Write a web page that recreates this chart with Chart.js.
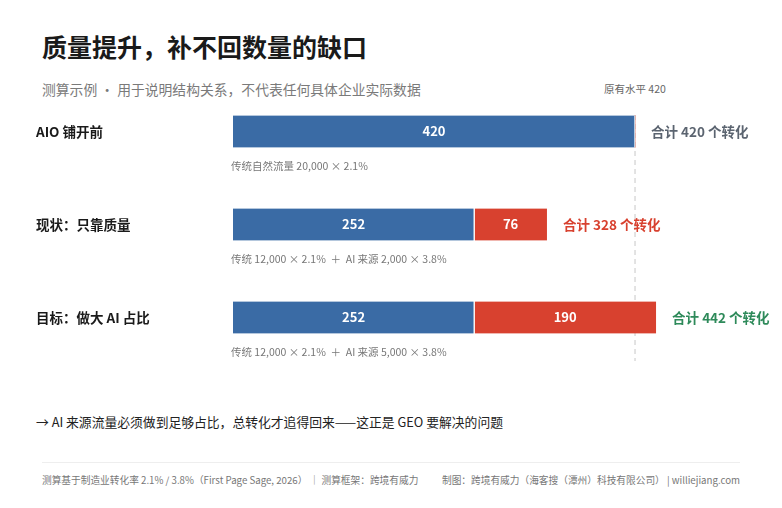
<!DOCTYPE html>
<html><head><meta charset="utf-8">
<script src="https://cdn.jsdelivr.net/npm/chart.js@4"></script>
<style>
body{margin:0;width:782px;height:508px;background:#fff;font-family:"Noto Sans CJK SC","Noto Sans",sans-serif;position:relative;overflow:hidden}
.t{position:absolute;white-space:nowrap}
</style></head><body>
<div class="t" style="left:42px;top:28px;font-size:25px;font-weight:700;color:#1a1a1a">质量提升，补不回数量的缺口</div>
<div class="t" style="left:42px;top:79px;font-size:13.8px;color:#7a7a7a">测算示例 · 用于说明结构关系，不代表任何具体企业实际数据</div>
<div class="t" style="left:604px;top:81px;font-size:10.5px;color:#666">原有水平 420</div>
<div style="position:absolute;left:0;top:85px;width:782px;height:279px"><canvas id="c"></canvas></div>
<div class="t" style="left:36px;top:412px;font-size:12.8px;color:#222">→ AI 来源流量必须做到足够占比，总转化才追得回来——这正是 GEO 要解决的问题</div>
<div style="position:absolute;left:42px;top:462px;width:698px;height:1px;background:#eee"></div>
<div class="t" style="left:42px;top:473px;font-size:9.7px;color:#777">测算基于制造业转化率 2.1% / 3.8%（First Page Sage, 2026） ｜ 测算框架：跨境有威力</div>
<div class="t" style="left:442px;top:473px;font-size:9.7px;color:#777">制图：跨境有威力（海客搜（潭州）科技有限公司） | williejiang.com</div>
<script>
const categories=["AIO 铺开前","现状：只靠质量","目标：做大 AI 占比"];
const traditional=[420,252,252];
const aiSource=[0,76,190];
const totals=[420,328,442];
const baseline=420;
const notes=["传统自然流量 20,000 × 2.1%","传统 12,000 × 2.1%  ＋  AI 来源 2,000 × 3.8%","传统 12,000 × 2.1%  ＋  AI 来源 5,000 × 3.8%"];
const totalColors=["#5b6470","#d8412f","#2e8a5a"];
const F='"Noto Sans CJK SC","Noto Sans",sans-serif';
const deco={id:'deco',
 beforeDatasetsDraw(ch){const c=ch.ctx,x=ch.scales.x;const px=x.getPixelForValue(baseline);
  c.save();c.strokeStyle='#c8c8c8';c.setLineDash([5,4]);c.lineWidth=1;c.beginPath();c.moveTo(px,30);c.lineTo(px,276);c.stroke();c.restore();},
 afterDatasetsDraw(ch){const c=ch.ctx,x=ch.scales.x,y=ch.scales.y;c.save();
  categories.forEach((cat,i)=>{const cy=y.getPixelForValue(i);
   c.textBaseline='middle';c.textAlign='left';c.fillStyle='#1a1a1a';c.font='bold 13.5px '+F;c.fillText(cat,36,cy);
   c.fillStyle=totalColors[i];c.font='bold 13.5px '+F;c.fillText('合计 '+totals[i]+' 个转化',x.getPixelForValue(totals[i])+16,cy);
   c.fillStyle='#777';c.font='10.5px '+F;c.fillText(notes[i],231,cy+35);
   c.fillStyle='#fff';c.font='bold 13px '+F;c.textAlign='center';
   c.fillText(traditional[i],x.getPixelForValue(traditional[i]/2),cy);
   if(aiSource[i]>0)c.fillText(aiSource[i],x.getPixelForValue(traditional[i]+aiSource[i]/2),cy);
  });c.restore();}};
new Chart(document.getElementById('c'),{type:'bar',
 data:{labels:categories,datasets:[
  {data:traditional,backgroundColor:'#3a6ba5',borderColor:'#fff',borderWidth:{right:1},barThickness:32,borderSkipped:false},
  {data:aiSource,backgroundColor:'#d8412f',borderColor:'#fff',borderWidth:{left:1},barThickness:32,borderSkipped:false}]},
 options:{indexAxis:'y',responsive:true,maintainAspectRatio:false,animation:false,
  layout:{padding:{left:233,right:70.4,top:0,bottom:0}},
  scales:{x:{stacked:true,min:0,max:500,display:false},y:{stacked:true,display:false}},
  plugins:{legend:{display:false},tooltip:{enabled:false}}},
 plugins:[deco]});
</script></body></html>
